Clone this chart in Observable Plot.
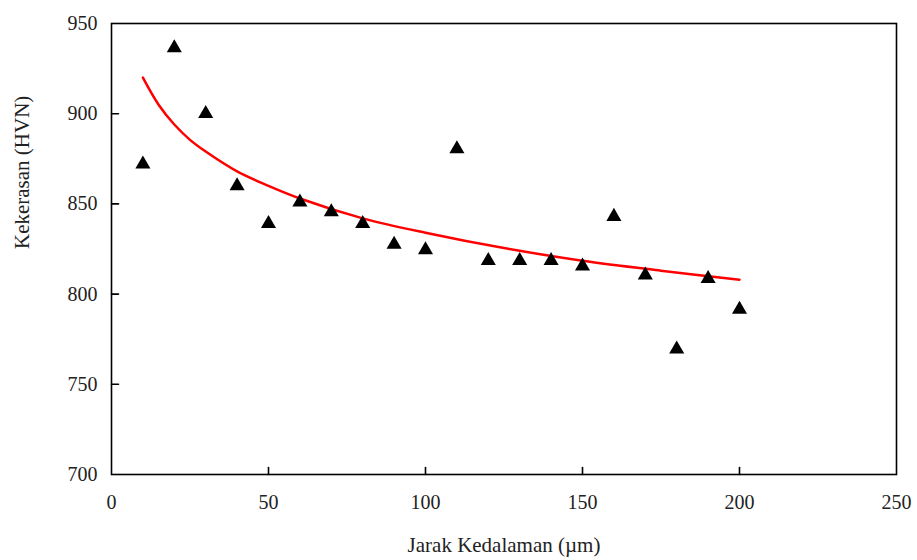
<!DOCTYPE html>
<html>
<head>
<meta charset="utf-8">
<script src="https://cdn.jsdelivr.net/npm/d3@7"></script>
<script src="https://cdn.jsdelivr.net/npm/@observablehq/plot@0.6"></script>
<style>
  html, body { margin: 0; padding: 0; background: #fff; }
  #chart { width: 917px; height: 560px; }
  #chart svg text { font-family: "Liberation Serif", "DejaVu Serif", serif !important; }
</style>
</head>
<body>
<div id="chart"></div>
<script>
// Measured hardness data (depth µm, HVN)
const depth = [10, 20, 30, 40, 50, 60, 70, 80, 90, 100, 110, 120, 130, 140, 150, 160, 170, 180, 190, 200];
const hardness = [872, 936.5, 900, 860, 839, 851, 845.5, 839, 827.5, 824.5, 880.5, 818.5, 818.5, 818.5, 815.5, 843, 810.5, 769.5, 808.5, 791.5];

// Logarithmic trend line
const trendX = [10, 15, 20, 25, 30, 40, 50, 60, 80, 100, 125, 150, 175, 200];
const trendY = [920, 905, 894, 885.5, 879, 868, 860, 853, 842, 834, 825.5, 818.5, 813, 808];

const xTicks = [0, 50, 100, 150, 200, 250];
const yTicks = [700, 750, 800, 850, 900, 950];
const xTitle = "Jarak Kedalaman (\u00b5m)";
const yTitle = "Kekerasan (HVN)";

const points = depth.map((d, i) => ({x: d, y: hardness[i]}));
const trend = trendX.map((d, i) => ({x: d, y: trendY[i]}));

const font = "Liberation Serif";
const tickShape = {draw(context, l) { context.moveTo(0, 0); context.lineTo(0, -l); }};

const chart = Plot.plot({
  width: 917,
  height: 560,
  marginLeft: 111,
  marginRight: 21,
  marginTop: 23,
  marginBottom: 86,
  style: {fontFamily: font, fontSize: "20px", color: "#222", background: "#fff"},
  x: {domain: [0, 250], ticks: xTicks},
  y: {domain: [700, 950], ticks: yTicks},
  marks: [
    Plot.frame({stroke: "#000", strokeWidth: 1.6}),
    Plot.axisX(xTicks, {tickSize: 0, tickPadding: 20, fontSize: 20, fill: "#222", label: null}),
    Plot.axisY(yTicks, {tickSize: 0, tickPadding: 14, fontSize: 20, fill: "#222", label: null}),
    Plot.vector(xTicks.slice(1, -1), {x: d => d, y: d => 700, length: 7, rotate: 0, anchor: "start", stroke: "#000", strokeWidth: 1.6, shape: tickShape}),
    Plot.vector(yTicks.slice(1, -1), {x: d => 0, y: d => d, length: 7, rotate: 90, anchor: "start", stroke: "#000", strokeWidth: 1.6, shape: tickShape}),
    Plot.line(trend, {x: "x", y: "y", stroke: "#ff0000", strokeWidth: 2.5, curve: "catmull-rom"}),
    Plot.dot(points, {x: "x", y: "y", symbol: "triangle", r: 5.6, fill: "#000", stroke: "none"}),
    Plot.text([xTitle], {frameAnchor: "bottom", dy: 71, text: d => d, fontSize: 21, fill: "#222", lineAnchor: "middle"}),
    Plot.text([yTitle], {frameAnchor: "left", dx: -89, rotate: -90, text: d => d, fontSize: 21, fill: "#222", lineAnchor: "middle"})
  ]
});
document.getElementById("chart").appendChild(chart);
</script>
</body>
</html>
